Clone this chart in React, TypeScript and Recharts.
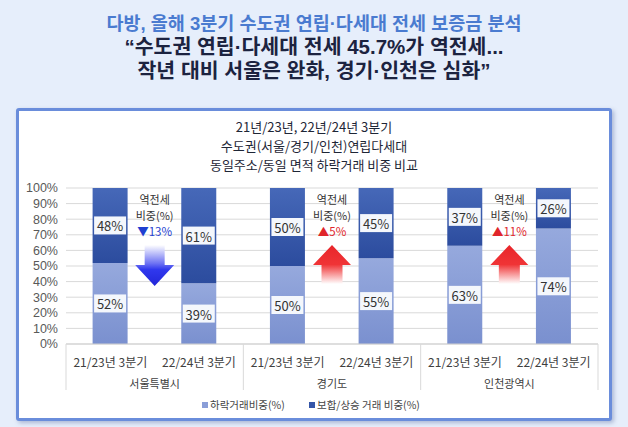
import React from "react";
import { BarChart, Bar, XAxis, YAxis, CartesianGrid, LabelList } from "recharts";

const periods = [
  "21/23년 3분기",
  "22/24년 3분기",
  "21/23년 3분기",
  "22/24년 3분기",
  "21/23년 3분기",
  "22/24년 3분기",
];
const regions = ["서울특별시", "경기도", "인천광역시"];
const declineShare = [52, 39, 50, 55, 63, 74];
const stableShare = [48, 61, 50, 45, 37, 26];
const reverseChange = ["▼13%", "▲5%", "▲11%"];
const reverseUp = [false, true, true];
const yTicks = [0, 10, 20, 30, 40, 50, 60, 70, 80, 90, 100];

const data = periods.map((period, i) => ({
  period,
  region: regions[Math.floor(i / 2)],
  decline: declineShare[i],
  stable: stableShare[i],
}));

const W = 628;
const H = 427;
const PLOT_LEFT = 66;
const PLOT_RIGHT = 598;
const PLOT_TOP = 188;
const PLOT_BOTTOM = 344;
const Y_AXIS_W = 50;
const X_AXIS_H = 50;
const SLOT = (PLOT_RIGHT - PLOT_LEFT) / data.length;

const FONT = "'Noto Sans CJK KR', 'Noto Sans', sans-serif";
// latin font first so the middle dot and quotes stay narrow, hangul falls back to CJK
const TITLE_FONT = "'Liberation Sans', 'Noto Sans CJK KR', sans-serif";
const LIGHT = "#8a9ed8";
const DARK = "#3556a8";

function Arrow({ cx, up }: { cx: number; up: boolean }) {
  if (up) {
    const d = `M${cx},245 L${cx + 19},265 H${cx + 10.5} V284 H${cx - 10.5} V265 H${cx - 19} Z`;
    return <path d={d} fill="url(#arrowRed)" />;
  }
  const d = `M${cx - 10},245 H${cx + 10} V265 H${cx + 19.5} L${cx},286 L${cx - 19.5},265 H${cx - 10} Z`;
  return <path d={d} fill="url(#arrowBlue)" />;
}

function PeriodTick(props: any) {
  const { x, payload } = props;
  const i: number = payload.index;
  const axisY = PLOT_BOTTOM;
  const parts: React.ReactNode[] = [];
  parts.push(
    <text key="p" x={x} y={axisY + 17} textAnchor="middle" dominantBaseline="central" fontSize={12} fill="#404040">
      {periods[i]}
    </text>
  );
  if (i % 2 === 0) {
    parts.push(<line key="s" x1={x - SLOT / 2} x2={x - SLOT / 2} y1={axisY} y2={axisY + 46} stroke="#d9d9d9" />);
  }
  if (i === data.length - 1) {
    parts.push(<line key="e" x1={x + SLOT / 2} x2={x + SLOT / 2} y1={axisY} y2={axisY + 46} stroke="#d9d9d9" />);
  }
  if (i % 2 === 1) {
    const g = Math.floor(i / 2);
    const gx = x - SLOT / 2;
    parts.push(
      <text key="r" x={gx} y={axisY + 39} textAnchor="middle" dominantBaseline="central" fontSize={11} fill="#404040">
        {regions[g]}
      </text>
    );
    parts.push(
      <g key="a">
        <text x={gx} y={198.5} textAnchor="middle" dominantBaseline="central" fontSize={11} fill="#333">
          역전세
        </text>
        <text x={gx} y={214.5} textAnchor="middle" dominantBaseline="central" fontSize={11} fill="#333">
          비중(%)
        </text>
        <text
          x={gx}
          y={230.5}
          textAnchor="middle"
          dominantBaseline="central"
          fontSize={11.5}
          fill={reverseUp[g] ? "#e0262b" : "#1f3fd0"}
        >
          {reverseChange[g]}
        </text>
        <Arrow cx={gx} up={reverseUp[g]} />
      </g>
    );
  }
  return <g>{parts}</g>;
}

function ValueLabel(props: any) {
  const { x, y, width, height, value } = props;
  const cx = Number(x) + Number(width) / 2;
  const cy = Number(y) + Number(height) / 2;
  return (
    <g>
      <rect x={cx - 16} y={cy - 9} width={32} height={18} fill="#f4f7fc" />
      <text x={cx} y={cy + 0.5} textAnchor="middle" dominantBaseline="central" fontSize={13} fill="#333">
        {value}%
      </text>
    </g>
  );
}

export default function App() {
  const titleBase: React.CSSProperties = {
    position: "absolute",
    left: 0,
    width: W,
    lineHeight: "22px",
    textAlign: "center",
    fontWeight: 700,
    fontFamily: TITLE_FONT,
  };
  return (
    <div
      style={{
        position: "fixed",
        left: 0,
        top: 0,
        width: W,
        height: H,
        background: "#e6eefb",
        fontFamily: FONT,
        overflow: "hidden",
      }}
    >
      <div style={{ ...titleBase, top: 13, fontSize: 18.5, color: "#4a7bd0" }}>
        다방, 올해 3분기 수도권 연립·다세대 전세 보증금 분석
      </div>
      <div style={{ ...titleBase, top: 36, fontSize: 20.5, color: "#1c2340" }}>
        “수도권 연립·다세대 전세 45.7%가 역전세...
      </div>
      <div style={{ ...titleBase, top: 60, fontSize: 20.5, color: "#1c2340" }}>
        작년 대비 서울은 완화, 경기·인천은 심화”
      </div>

      <div
        style={{
          position: "absolute",
          left: 16,
          top: 108,
          width: 590,
          height: 307,
          border: "3px solid #6a8ddb",
          borderRadius: 3,
          background: "#ffffff",
          boxShadow: "2px 2px 4px rgba(60,80,140,0.35)",
        }}
      />

      {["21년/23년, 22년/24년 3분기", "수도권(서울/경기/인천)연립다세대", "동일주소/동일 면적 하락거래 비중 비교"].map((t, i) => (
        <div
          key={t}
          style={{
            position: "absolute",
            left: 0,
            width: W,
            top: 117 + i * 19.2,
            lineHeight: "19px",
            textAlign: "center",
            fontSize: 13,
            color: "#1e2636",
          }}
        >
          {t}
        </div>
      ))}

      <div style={{ position: "absolute", left: 0, top: 0 }}>
        <BarChart
          width={W}
          height={H}
          data={data}
          barCategoryGap="30%"
          margin={{
            top: PLOT_TOP,
            left: PLOT_LEFT - Y_AXIS_W,
            right: W - PLOT_RIGHT,
            bottom: H - PLOT_BOTTOM - X_AXIS_H,
          }}
        >
          <defs>
            <linearGradient id="lightFill" x1="0" y1="0" x2="0" y2="1">
              <stop offset="0%" stopColor="#96a9dd" />
              <stop offset="100%" stopColor="#7a90cf" />
            </linearGradient>
            <linearGradient id="darkFill" x1="0" y1="0" x2="0" y2="1">
              <stop offset="0%" stopColor="#4668b8" />
              <stop offset="100%" stopColor="#2c4c9e" />
            </linearGradient>
            <linearGradient id="arrowBlue" x1="0" y1="0" x2="0" y2="1">
              <stop offset="0%" stopColor="#ffffff" />
              <stop offset="45%" stopColor="#6d72f3" />
              <stop offset="60%" stopColor="#3038ee" />
              <stop offset="100%" stopColor="#2226d8" />
            </linearGradient>
            <linearGradient id="arrowRed" x1="0" y1="0" x2="0" y2="1">
              <stop offset="0%" stopColor="#e8252a" />
              <stop offset="50%" stopColor="#f03436" />
              <stop offset="100%" stopColor="#ffffff" />
            </linearGradient>
          </defs>
          <CartesianGrid vertical={false} stroke="#d9d9d9" />
          <XAxis
            dataKey="period"
            height={X_AXIS_H}
            interval={0}
            tickLine={false}
            axisLine={{ stroke: "#d0d0d0" }}
            tick={<PeriodTick />}
          />
          <YAxis
            width={Y_AXIS_W}
            domain={[0, 100]}
            ticks={yTicks}
            interval={0}
            tickFormatter={(v: number) => `${v}%`}
            axisLine={false}
            tickLine={false}
            tick={{ fontSize: 12.5, fill: "#595959", fontFamily: "'Liberation Sans', Arial, sans-serif" }}
          />
          <Bar dataKey="decline" stackId="a" fill="url(#lightFill)" isAnimationActive={false}>
            <LabelList dataKey="decline" content={<ValueLabel />} />
          </Bar>
          <Bar dataKey="stable" stackId="a" fill="url(#darkFill)" isAnimationActive={false}>
            <LabelList dataKey="stable" content={<ValueLabel />} />
          </Bar>
        </BarChart>
      </div>

      <div
        style={{
          position: "absolute",
          left: 0,
          width: W,
          top: 397,
          lineHeight: "16px",
          fontSize: 10.5,
          color: "#444",
        }}
      >
        <span style={{ position: "absolute", left: 202, top: 5, width: 6, height: 6, background: LIGHT }} />
        <span style={{ position: "absolute", left: 210, top: 0, whiteSpace: "nowrap" }}>하락거래비중(%)</span>
        <span style={{ position: "absolute", left: 309, top: 5, width: 6, height: 6, background: DARK }} />
        <span style={{ position: "absolute", left: 317, top: 0, whiteSpace: "nowrap" }}>보합/상승 거래 비중(%)</span>
      </div>
    </div>
  );
}
